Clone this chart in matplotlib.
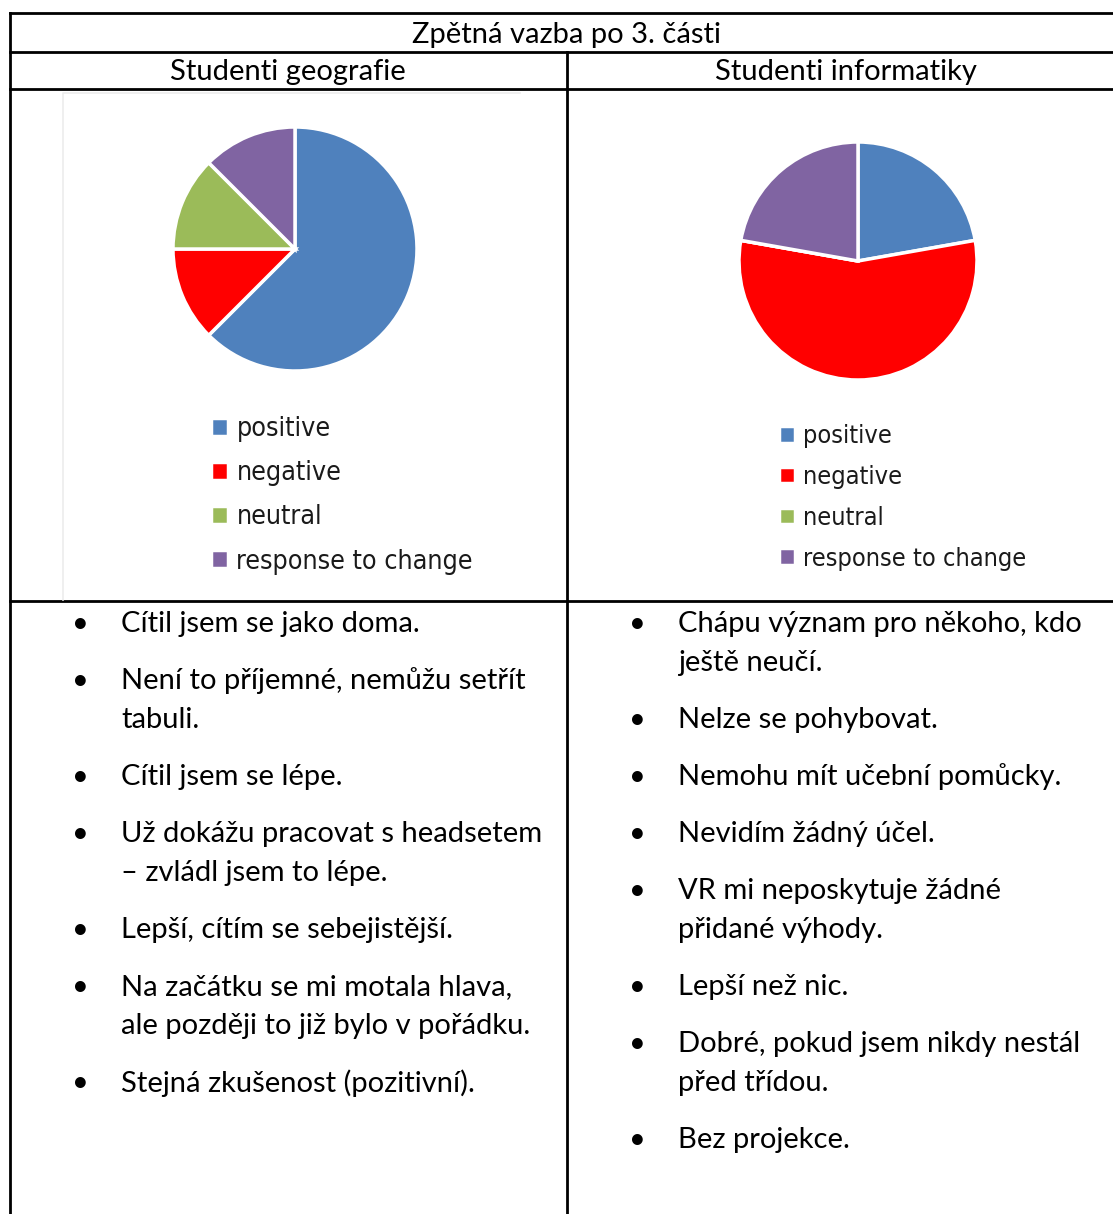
import matplotlib.pyplot as plt

# Data
categories = ['positive', 'negative', 'neutral', 'response to change']
colors = ['#4F81BD', '#FF0000', '#9BBB59', '#8064A2']
geo_values = [5, 1, 1, 1]
inf_values = [2, 5, 0, 2]

title = 'Zpětná vazba po 3. části'
col_titles = ['Studenti geografie', 'Studenti informatiky']

geo_comments = [
    ['Cítil jsem se jako doma.'],
    ['Není to příjemné, nemůžu setřít', 'tabuli.'],
    ['Cítil jsem se lépe.'],
    ['Už dokážu pracovat s headsetem', '– zvládl jsem to lépe.'],
    ['Lepší, cítím se sebejistější.'],
    ['Na začátku se mi motala hlava,', 'ale později to již bylo v pořádku.'],
    ['Stejná zkušenost (pozitivní).'],
]
inf_comments = [
    ['Chápu význam pro někoho, kdo', 'ještě neučí.'],
    ['Nelze se pohybovat.'],
    ['Nemohu mít učební pomůcky.'],
    ['Nevidím žádný účel.'],
    ['VR mi neposkytuje žádné', 'přidané výhody.'],
    ['Lepší než nic.'],
    ['Dobré, pokud jsem nikdy nestál', 'před třídou.'],
    ['Bez projekce.'],
]

W, H = 1113, 1214
fig = plt.figure(figsize=(W / 100, H / 100), dpi=100)
base = fig.add_axes([0, 0, 1, 1])
base.set_xlim(0, W)
base.set_ylim(H, 0)
base.axis('off')

font = 'Lato'
fs = 21
lw = 2

# table grid
base.plot([10, W], [13, 13], color='black', lw=lw)
base.plot([10, W], [52, 52], color='black', lw=lw)
base.plot([10, W], [89, 89], color='black', lw=lw)
base.plot([10, W], [601, 601], color='black', lw=lw)
base.plot([10, 10], [13, H], color='black', lw=lw)
base.plot([567, 567], [52, H], color='black', lw=lw)

# faint frame of the pasted chart image
base.plot([63, 63, 520], [600, 93, 93], color='#ececec', lw=1.2)

base.text(567, 35, title, ha='center', va='center', fontsize=fs, family=font)
base.text(288, 72, col_titles[0], ha='center', va='center', fontsize=fs, family=font)
base.text(846, 72, col_titles[1], ha='center', va='center', fontsize=fs, family=font)


def pie_at(cx, cy, r, values, leg_x, leg_y, leg_fs, leg_gap):
    ax = fig.add_axes([(cx - r) / W, 1 - (cy + r) / H, 2 * r / W, 2 * r / H])
    wedges, _ = ax.pie(values, colors=colors, startangle=90, counterclock=False,
                       wedgeprops=dict(edgecolor='white', linewidth=2.5))
    ax.set_xlim(-1, 1)
    ax.set_ylim(-1, 1)
    leg = ax.legend(wedges, categories, loc='upper left',
                    bbox_to_anchor=(leg_x / W, 1 - leg_y / H),
                    bbox_transform=fig.transFigure, frameon=False,
                    prop=dict(family='DejaVu Sans', stretch='condensed', size=leg_fs),
                    handlelength=0.65, handleheight=0.65, handletextpad=0.3,
                    labelspacing=leg_gap, borderpad=0, borderaxespad=0)
    for t in leg.get_texts():
        t.set_color('#1a1a1a')


pie_at(295, 249, 122, geo_values, 211, 416, 19.3, 0.68)
pie_at(858, 261, 119, inf_values, 779, 424, 18.2, 0.67)


def bullets(items, bx, tx, y0):
    y = y0
    for item in items:
        base.text(bx, y, '•', ha='center', va='center', fontsize=fs, family=font)
        for line in item:
            base.text(tx, y, line, ha='left', va='center', fontsize=fs, family=font)
            y += 39
        y += 18


bullets(geo_comments, 80, 121, 624)
bullets(inf_comments, 637, 678, 624)

fig.savefig('out.png', dpi=100)
